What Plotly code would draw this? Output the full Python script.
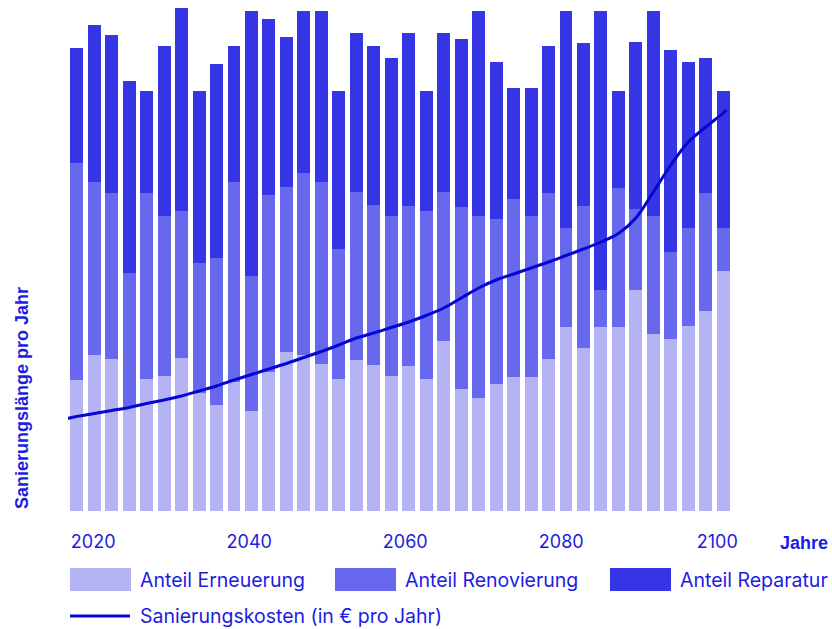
import plotly.graph_objects as go

# ---- data (bar heights in chart units) ----
erneuerung = [26.2, 31.2, 30.4, 20.8, 26.4, 27.0, 30.6, 23.6, 21.2, 25.8,
              20.0, 27.8, 31.8, 31.2, 29.4, 26.4, 30.2, 29.2, 27.0, 29.0,
              26.4, 34.0, 24.4, 22.6, 25.4, 26.8, 26.8, 30.4, 36.8, 32.6,
              36.8, 36.8, 44.2, 35.4, 34.4, 37.0, 40.0, 48.0]
renovierung = [43.4, 34.6, 33.2, 26.8, 37.2, 32.0, 29.4, 26.0, 29.4, 40.0,
               27.0, 35.4, 33.0, 36.4, 36.4, 26.0, 33.6, 32.0, 32.0, 32.0,
               33.6, 29.8, 36.4, 36.4, 33.0, 35.6, 32.2, 33.2, 19.8, 28.4,
               7.4, 27.8, 16.2, 23.6, 17.4, 19.6, 23.6, 8.6]
reparatur = [23.0, 31.4, 31.6, 38.4, 20.4, 34.0, 40.6, 34.4, 38.8, 27.2,
             53.0, 35.2, 30.0, 32.4, 34.2, 31.6, 31.8, 31.8, 31.6, 34.6,
             24.0, 31.8, 33.6, 41.0, 31.4, 22.2, 25.6, 29.4, 43.4, 32.6,
             55.8, 19.4, 33.4, 41.0, 40.4, 33.2, 27.0, 27.4]
bar_pos = list(range(len(erneuerung)))

kosten_pos = [-0.54] + bar_pos + [37.17]
kosten = [18.5, 18.9, 19.5, 20.1, 20.7, 21.5, 22.2, 23.0, 24.0, 25.0,
          26.2, 27.3, 28.4, 29.5, 30.7, 31.9, 33.2, 34.6, 35.6, 36.7,
          37.8, 39.1, 40.6, 42.6, 44.6, 46.2, 47.4, 48.6, 49.8, 51.1,
          52.4, 53.8, 55.5, 58.6, 63.8, 69.2, 73.8, 76.8, 79.6, 80.2]

tick_years = [2020, 2040, 2060, 2080, 2100]
tick_labels = ["2020", "2040", "2060", "2080", "2100"]

names = ["Anteil Erneuerung", "Anteil Renovierung", "Anteil Reparatur"]
colors = ["#b4b4f4", "#6868ee", "#3535e6"]
line_color = "#0606d2"
text_color = "#1c1ce4"

W, H = 832, 629
ML, MR, MT, MB = 68, 100, 8, 118
PW, PH = W - ML - MR, H - MT - MB


def px(x):
    """screen x pixel -> paper coordinate"""
    return (x - ML) / PW


def py(y):
    """screen y pixel -> paper coordinate"""
    return (H - MB - y) / PH


def year_to_pos(year):
    return 0.94 + (year - 2020) * 0.4465


fig = go.Figure()
for vals, name, col in zip([erneuerung, renovierung, reparatur], names, colors):
    fig.add_trace(go.Bar(x=bar_pos, y=vals, name=name, marker_color=col,
                         marker_line_width=0, width=0.743, showlegend=False))

fig.add_trace(go.Scatter(x=kosten_pos, y=kosten, mode="lines",
                         line=dict(color=line_color, width=3, shape="spline"),
                         name="Sanierungskosten (in € pro Jahr)", showlegend=False))

fig.update_layout(
    width=W, height=H, barmode="stack",
    margin=dict(l=ML, r=MR, t=MT, b=MB),
    plot_bgcolor="white", paper_bgcolor="white",
    font=dict(family="Inter", size=18, color=text_color),
    xaxis=dict(range=[-0.5, 37.5], showgrid=False, zeroline=False, showline=False,
               tickvals=[year_to_pos(y) for y in tick_years], ticktext=tick_labels,
               ticks="", ticklabelstandoff=18,
               tickfont=dict(family="Inter", size=18, color=text_color)),
    yaxis=dict(range=[0, 100.6], showgrid=False, zeroline=False, showline=False,
               showticklabels=False, ticks=""),
)

# axis titles
fig.add_annotation(text="<b>Jahre</b>", xref="paper", yref="paper",
                   x=px(830), y=py(543), xanchor="right", yanchor="middle",
                   showarrow=False,
                   font=dict(family="Liberation Sans", size=18, color=text_color))
fig.add_annotation(text="<b>Sanierungslänge pro Jahr</b>", xref="paper", yref="paper",
                   x=px(22), y=py(511), xanchor="center", yanchor="bottom", textangle=-90,
                   showarrow=False,
                   font=dict(family="Liberation Sans", size=18, color=text_color))

# custom legend
sw_x = [70, 335, 610]
for sx, name, col in zip(sw_x, names, colors):
    fig.add_shape(type="rect", xref="paper", yref="paper",
                  x0=px(sx), x1=px(sx + 61), y0=py(591), y1=py(568),
                  fillcolor=col, line_width=0)
    fig.add_annotation(text=name, xref="paper", yref="paper",
                       x=px(sx + 68), y=py(580), xanchor="left", yanchor="middle",
                       showarrow=False,
                       font=dict(family="Inter", size=19.5, color=text_color))
fig.add_shape(type="line", xref="paper", yref="paper",
              x0=px(70), x1=px(130), y0=py(616), y1=py(616),
              line=dict(color=line_color, width=3))
fig.add_annotation(text="Sanierungskosten (in € pro Jahr)", xref="paper", yref="paper",
                   x=px(138), y=py(616), xanchor="left", yanchor="middle",
                   showarrow=False,
                   font=dict(family="Inter", size=19.5, color=text_color))

fig.write_html(
    "out.html",
    config={"displayModeBar": False},
    post_script="document.body.style.margin='0';document.body.style.overflow='hidden';",
)
